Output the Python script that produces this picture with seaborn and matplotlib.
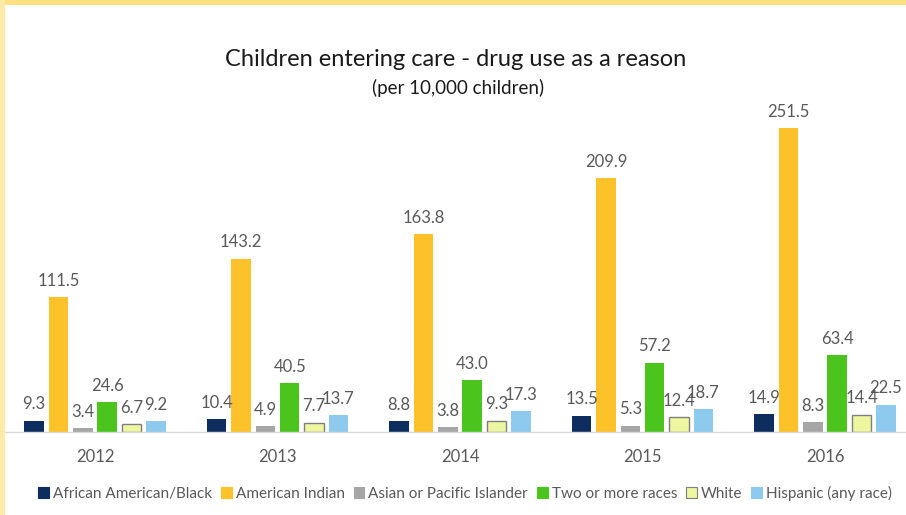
import matplotlib
matplotlib.use("Agg")
import matplotlib.pyplot as plt
from matplotlib.patches import Rectangle
import seaborn as sns
import pandas as pd

years = ["2012", "2013", "2014", "2015", "2016"]
groups = ["African American/Black", "American Indian", "Asian or Pacific Islander",
          "Two or more races", "White", "Hispanic (any race)"]
african_american = [9.3, 10.4, 8.8, 13.5, 14.9]
american_indian = [111.5, 143.2, 163.8, 209.9, 251.5]
asian_pacific = [3.4, 4.9, 3.8, 5.3, 8.3]
two_or_more = [24.6, 40.5, 43.0, 57.2, 63.4]
white = [6.7, 7.7, 9.3, 12.4, 14.4]
hispanic = [9.2, 13.7, 17.3, 18.7, 22.5]
series = [african_american, american_indian, asian_pacific, two_or_more, white, hispanic]
colors = ["#0D2D5E", "#FDC22A", "#A6A6A6", "#4CC41E", "#EEF7A0", "#8DCAEE"]

rows = []
for g, vals in zip(groups, series):
    for y, v in zip(years, vals):
        rows.append({"Year": y, "Group": g, "Value": v})
df = pd.DataFrame(rows)

sns.set_style("white")
plt.rcParams["font.family"] = ["Lato", "DejaVu Sans"]

fig = plt.figure(figsize=(9.06, 5.15), dpi=100)
ax = fig.add_axes([5 / 906, 1 - 432 / 515, 900 / 906, 0.634])

sns.barplot(data=df, x="Year", y="Value", hue="Group", order=years, hue_order=groups,
            palette=colors, gap=0.2, width=0.8, linewidth=0, saturation=1,
            errorbar=None, legend=False, ax=ax)

txt = "#595959"
for cont, vals in zip(ax.containers, series):
    ax.bar_label(cont, labels=[f"{v:.1f}" for v in vals], padding=6,
                 fontsize=12, color=txt)

# outline on the White bars
for bar in ax.containers[4]:
    bar.set_edgecolor("#7F7F7F")
    bar.set_linewidth(1)

ax.set_ylim(0, 270)
ax.set_xlim(-0.493, 4.438)
ax.set_xlabel("")
ax.set_ylabel("")
ax.set_yticks([])
ax.tick_params(axis="x", length=0, pad=12, labelsize=12, labelcolor=txt)
for s in ["top", "right", "left"]:
    ax.spines[s].set_visible(False)
ax.spines["bottom"].set_color("#D9D9D9")
ax.spines["bottom"].set_linewidth(1)

fig.text(456 / 906, 1 - 60 / 515, "Children entering care - drug use as a reason",
         ha="center", va="center", fontsize=17, color="#1A1A1A")
fig.text(458 / 906, 1 - 88 / 515, "(per 10,000 children)",
         ha="center", va="center", fontsize=13.5, color="#1A1A1A")

handles = [Rectangle((0, 0), 1, 1, facecolor=c,
                     edgecolor=("#7F7F7F" if g == "White" else c), linewidth=0.8)
           for g, c in zip(groups, colors)]
fig.legend(handles, groups, loc="center", bbox_to_anchor=(465 / 906, 1 - 493 / 515),
           ncol=6, frameon=False, fontsize=11, labelcolor=txt,
           handlelength=0.7, handleheight=0.7, handletextpad=0.25,
           columnspacing=0.6, borderaxespad=0)

# yellow frame
fig.patches.append(Rectangle((0, 1 - 5 / 515), 1, 5 / 515, transform=fig.transFigure,
                             facecolor="#FFE184", edgecolor="none", zorder=0))
fig.patches.append(Rectangle((0, 0), 5 / 906, 1, transform=fig.transFigure,
                             facecolor="#FFEAA8", edgecolor="none", zorder=0))

fig.savefig("out.png", dpi=100)
